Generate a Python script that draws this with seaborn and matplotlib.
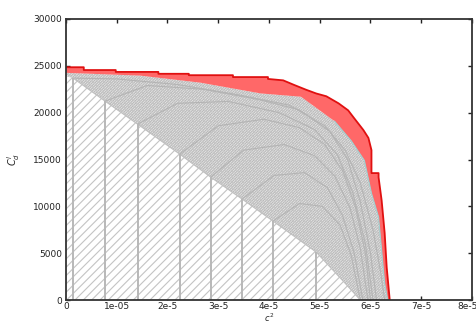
import numpy as np
import pandas as pd
import seaborn as sns
import matplotlib.pyplot as plt
from matplotlib.transforms import ScaledTranslation

sns.set_theme(style="ticks")
plt.rcParams['font.family'] = ['DejaVu Sans']
plt.rcParams['hatch.linewidth'] = 0.8

# x values are given in units of 1e-5
X_SCALE = 1e-5

# outer (red) envelope
env_x = [0.0, 0.35, 0.35, 0.98, 0.98, 1.82, 1.82, 2.42, 2.42, 3.29, 3.29,
         3.98, 3.98, 4.28, 4.5, 4.73, 4.93, 5.13, 5.37, 5.56, 5.68, 5.86,
         5.96, 6.02, 6.02, 6.16, 6.16, 6.22, 6.28, 6.32, 6.38]
env_y = [24850, 24850, 24550, 24550, 24350, 24350, 24150, 24150, 24000,
         24000, 23800, 23800, 23600, 23450, 22950, 22450, 22050, 21750,
         21000, 20250, 19400, 18150, 17300, 16000, 13550, 13550, 13100,
         10650, 7150, 3500, 0]

# inner edge of the red band
inner_x = [0.0, 1.47, 2.65, 3.84, 4.63, 5.29, 5.62, 5.88, 6.02, 6.16, 6.22,
           6.28, 6.34]
inner_y = [24250, 23950, 23200, 22050, 21700, 19100, 17000, 14900, 11400,
           8850, 5300, 1800, 0]

# lower edge of the dense region (diagonal)
diag_x = [0.0, 0.14, 0.77, 1.41, 2.24, 2.85, 3.47, 4.08, 4.93, 5.5, 5.8]
diag_y = [23900, 23690, 21230, 18780, 15580, 13120, 10780, 8430, 5120, 1800, 0]

# vertical partition lines
vline_x = [0.14, 0.77, 1.41, 2.24, 2.85, 3.47, 4.08, 4.93]
vline_top = [23690, 21230, 18780, 15580, 13120, 10780, 8430, 5120]

# a few visible arcs inside the dense region
arcs = [
    ([0.14, 1.0, 2.2, 3.4, 4.4, 5.1, 5.5, 5.8, 6.05, 6.2, 6.28],
     [23690, 23600, 23000, 21900, 20800, 18600, 16000, 12500, 7500, 3000, 0]),
    ([0.77, 1.6, 2.7, 3.8, 4.6, 5.2, 5.55, 5.8, 6.0, 6.12],
     [21230, 22900, 22500, 21400, 20300, 18000, 15000, 10500, 5000, 0]),
    ([1.41, 2.2, 3.2, 4.2, 4.9, 5.35, 5.65, 5.9, 6.05],
     [18780, 21000, 21200, 20000, 18200, 15500, 11500, 6000, 0]),
    ([2.24, 3.0, 3.9, 4.6, 5.1, 5.45, 5.7, 5.9, 6.0],
     [15580, 18600, 19300, 18400, 16600, 13800, 10000, 5000, 0]),
    ([2.85, 3.5, 4.3, 4.9, 5.3, 5.6, 5.8, 5.95],
     [13120, 16000, 16600, 15400, 13200, 9800, 5500, 0]),
    ([3.47, 4.1, 4.7, 5.15, 5.45, 5.68, 5.85],
     [10780, 13300, 13600, 12000, 9000, 5000, 0]),
    ([4.08, 4.6, 5.05, 5.4, 5.62, 5.8],
     [8430, 10300, 10000, 8000, 4800, 0]),
]

xticks = [0, 1, 2, 3, 4, 5, 6, 7, 8]
xtick_labels = ["0", "1e-05", "2e-5", "3e-5", "4e-5", "5e-5", "6e-5",
                "7e-5", "8e-5"]
yticks = [0, 5000, 10000, 15000, 20000, 25000, 30000]

fig = plt.figure(figsize=(4.77, 3.24), dpi=100)
ax = fig.add_axes([0.1384, 0.074, 0.851, 0.8674])

sx = lambda v: np.array(v) * X_SCALE

# sparse hatched region below the diagonal
ax.fill(np.concatenate([[0.0], sx(diag_x)]), np.concatenate([[0], diag_y]),
        facecolor='white', edgecolor='#c4c4c4', hatch='////', linewidth=0)

# dense region between diagonal and red band
dense_x = np.concatenate([sx(inner_x), sx(diag_x[::-1])])
dense_y = np.concatenate([inner_y, diag_y[::-1]])
ax.fill(dense_x, dense_y, facecolor='#e8e8e8', edgecolor='#b8b8b8',
        hatch='////////////', linewidth=0)
ax.fill(dense_x, dense_y, facecolor='none', edgecolor='#c8c8c8',
        hatch='\\\\\\\\\\\\', linewidth=0)

for arc_x, arc_y in arcs:
    ax.plot(sx(arc_x), arc_y, color='#b4b4b4', lw=0.8)
ax.plot(sx(diag_x[1:]), diag_y[1:], color='#c0c0c0', lw=0.8)

ax.vlines(sx(vline_x), 0, vline_top, color='#b8b8b8', lw=1.4)

# red band
band_x = np.concatenate([sx(env_x), sx(inner_x[::-1])])
band_y = np.concatenate([env_y, inner_y[::-1]])
ax.fill(band_x, band_y, facecolor='#ff6868', edgecolor='none')
ax.plot(sx(inner_x[5:]), inner_y[5:], color='#9fd2d2', lw=0.8)

env = pd.DataFrame({"x": sx(env_x), "y": env_y})
sns.lineplot(data=env, x="x", y="y", sort=False, estimator=None,
             color='#e01010', lw=1.3, ax=ax)

ax.set_xlim(0, 8 * X_SCALE)
ax.set_ylim(0, 30000)
ax.set_xticks(sx(xticks))
ax.set_xticklabels(xtick_labels)
ax.set_yticks(yticks)
ax.set_yticklabels([str(v) for v in yticks])
ax.tick_params(direction='in', length=3, width=1, top=True, right=True,
               labelsize=6.5, colors='#222222', pad=3)
ax.tick_params(axis='x', pad=1.5)
for s in ax.spines.values():
    s.set_linewidth(1.3)
    s.set_color('#333333')
ax.set_xlabel(r'$c^2$', fontsize=6, labelpad=0.5)
ax.set_ylabel(r'$C^l_d$', fontsize=7, labelpad=8)

# keep the last x tick label inside the figure
last = ax.get_xticklabels()[-1]
last.set_transform(last.get_transform()
                   + ScaledTranslation(-4 / 100, 0, fig.dpi_scale_trans))

fig.savefig("out.png", dpi=100, facecolor='white')
